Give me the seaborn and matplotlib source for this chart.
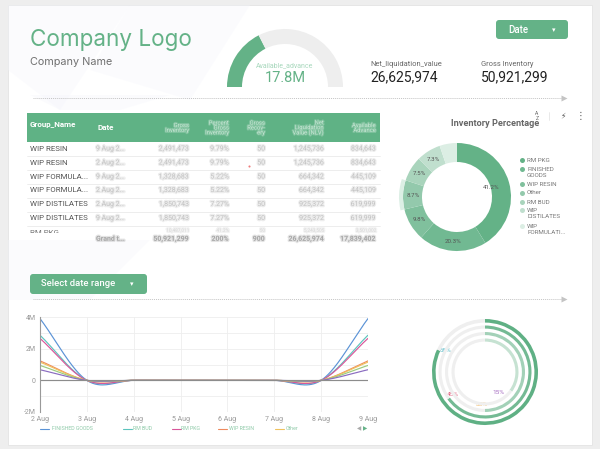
import numpy as np
import pandas as pd
import seaborn as sns
import matplotlib.pyplot as plt
import matplotlib.patheffects as pe
from matplotlib.patches import FancyBboxPatch, Polygon, Rectangle

# --- data ---
GROSS_INVENTORY = 50921299
NET_LIQUIDATION = 26625974
AVAILABLE_ADVANCE = 17839402

donut_labels = ["RM PKG", "FINISHED\nGOODS", "WIP RESIN", "Other", "RM BUD", "WIP\nDISTILATES", "WIP\nFORMULATI..."]
donut_values = [41.2, 20.3, 9.8, 8.7, 7.5, 7.3, 5.2]
donut_colors = ["#64b287", "#71b992", "#80c09d", "#93c9ac", "#a9d4bc", "#c0dfce", "#dceee4"]

table_groups = ["WIP RESIN", "WIP RESIN", "WIP FORMULA...", "WIP FORMULA...", "WIP DISTILATES", "WIP DISTILATES"]
table_dates = ["9 Aug 2...", "2 Aug 2...", "9 Aug 2...", "2 Aug 2...", "2 Aug 2...", "9 Aug 2..."]
table_gross = ["2,491,473", "2,491,473", "1,328,683", "1,328,683", "1,850,743", "1,850,743"]
table_pct = ["9.79%", "9.79%", "5.22%", "5.22%", "7.27%", "7.27%"]
table_recv = ["50", "50", "50", "50", "50", "50"]
table_net = ["1,245,736", "1,245,736", "664,342", "664,342", "925,372", "925,372"]
table_avail = ["834,643", "834,643", "445,109", "445,109", "619,999", "619,999"]
table_clipped = ["10,487,011", "41.2%", "50", "5,243,505", "3,501,002"]
table_total = ["Grand t...", "50,921,299", "200%", "900", "26,625,974", "17,839,402"]
table_headers = ["Gross\nInventory", "Percent\nGross\nInventory", "Gross\nRecov-\nery", "Net\nLiquidation\nValue (NLV)", "Available\nAdvance"]

days = [2, 3, 4, 5, 6, 7, 8, 9]
day_labels = ["2 Aug", "3 Aug", "4 Aug", "5 Aug", "6 Aug", "7 Aug", "8 Aug", "9 Aug"]
finished_goods = [3.9e6, 0, 0, 0, 0, 0, 0, 3.9e6]
rm_bud = [2.85e6, 0, 0, 0, 0, 0, 0, 2.85e6]
rm_pkg = [2.65e6, 0, 0, 0, 0, 0, 0, 2.65e6]
wip_resin = [1.23e6, 0, 0, 0, 0, 0, 0, 1.23e6]
other = [1.15e6, 0, 0, 0, 0, 0, 0, 1.15e6]
wip_distilates = [0.94e6, 0, 0, 0, 0, 0, 0, 0.94e6]
wip_formulation = [0.67e6, 0, 0, 0, 0, 0, 0, 0.67e6]
flat_series = [0, 0, 0, 0, 0, 0, 0, 0]

ring_values = [82, 65, 50, 35]
ring_colors = ["#5fb084", "#74ba94", "#a3d1b8", "#c6e2d2"]
ring_labels = ["68%", "45%", "35%", "15%"]

# --- style ---
GREEN = "#64b287"
W, H = 600, 449
sns.set_theme(style="white")
plt.rcParams["font.family"] = ["Roboto", "DejaVu Sans"]


def axes_px(fig, x0, y0, x1, y1):
    """Eixo posicionado em pixels da imagem."""
    return fig.add_axes([x0 / W, 1 - y1 / H, (x1 - x0) / W, (y1 - y0) / H])


def smooth(xs, ys, n=40):
    """Suavização Catmull-Rom entre os valores diários, como a linha do painel."""
    xs, ys = np.asarray(xs, float), np.asarray(ys, float)
    grad = np.gradient(ys, xs)
    out_x, out_y = [], []
    for i in range(len(xs) - 1):
        t = np.linspace(0, 1, n)
        out_x.extend(xs[i] + t)
        out_y.extend((2 * t ** 3 - 3 * t ** 2 + 1) * ys[i] + (t ** 3 - 2 * t ** 2 + t) * grad[i]
                     + (-2 * t ** 3 + 3 * t ** 2) * ys[i + 1] + (t ** 3 - t ** 2) * grad[i + 1])
    return out_x, out_y


def blurred(ax, x, y, s, color="#c6c6c6", size=5, ha="right", weight="normal"):
    return ax.text(x, y, s, color=color, fontsize=size, ha=ha, va="center", weight=weight,
                   path_effects=[pe.withStroke(linewidth=1.8, foreground=color, alpha=0.3)])


fig = plt.figure(figsize=(6, 4.49), dpi=100, facecolor="#eeeeee")

# --- fundo e textos em coordenadas de pixel ---
bg = axes_px(fig, 0, 0, W, H)
bg.set_xlim(0, W)
bg.set_ylim(H, 0)
bg.axis("off")
bg.add_patch(Rectangle((8, 5), 584, 440, fc="white", ec="#e4e4e4", lw=0.6))
for pts in [[(8, 5), (130, 5), (60, 110), (8, 70)],
            [(130, 5), (250, 5), (190, 100), (90, 70)],
            [(30, 95), (170, 95), (120, 110), (60, 110)],
            [(8, 240), (150, 240), (90, 300), (8, 300)]]:
    bg.add_patch(Polygon(pts, fc="#f4f5fc", ec="none", alpha=0.35))

bg.text(30, 40, "Company Logo", color=GREEN, fontsize=16.2, family="Inter", va="center")
bg.text(30, 62, "Company Name", color="#707070", fontsize=7.8, family="Inter", va="center")

bg.text(285, 66, "Available_advance", color="#a8d8bd", fontsize=5, ha="center", va="center")
bg.text(285, 78, "17.8M", color=GREEN, fontsize=10.5, ha="center", va="center")

bg.text(370, 64, "Net_liquidation_value", color="#666666", fontsize=5.4, va="center")
bg.text(370, 77, f"{NET_LIQUIDATION:,}", color="#222222", fontsize=10, va="center")
bg.text(481, 64, "Gross Inventory", color="#666666", fontsize=5.4, va="center")
bg.text(481, 77, f"{GROSS_INVENTORY:,}", color="#222222", fontsize=10, va="center")

# botões
bg.add_patch(FancyBboxPatch((499, 23), 66, 13, boxstyle="round,pad=3", fc=GREEN, ec="none"))
bg.text(508, 30, "Date", color="white", fontsize=7, va="center", weight="medium")
bg.text(554, 30, "▾", color="white", fontsize=5, ha="center", va="center", family="DejaVu Sans")
bg.add_patch(FancyBboxPatch((33, 277), 111, 14, boxstyle="round,pad=3", fc=GREEN, ec="none"))
bg.text(41, 284, "Select date range", color="white", fontsize=6.8, va="center", weight="medium")
bg.text(132, 284, "▾", color="white", fontsize=5, ha="center", va="center", family="DejaVu Sans")

# setas pontilhadas
for x0, y in [(33, 98), (33, 299)]:
    bg.plot([x0, 561], [y, y], color="#c4c4c4", lw=0.7, ls=(0, (1, 1)))
    bg.plot([564], [y], marker=">", color="#c4c4c4", ms=4.5, mec="none")

# --- tabela ---
bg.add_patch(Rectangle((27, 113), 353, 29, fc="#5fb285", ec="none"))
bg.text(30, 125, "Group_Name", color="white", fontsize=5.8, weight="bold", va="center")
bg.text(97, 128, "Date", color="white", fontsize=5.8, weight="bold", va="center")
col_right = [189, 229, 265, 324, 376]
for x, label in zip(col_right, table_headers):
    bg.text(x, 128, label, color="#c4e4d2", fontsize=4.2, ha="right", va="center", linespacing=0.95,
            path_effects=[pe.withStroke(linewidth=1.5, foreground="#c4e4d2", alpha=0.3)])
row_ys = [149, 163, 177, 190.5, 204.5, 218.5]
for i, y in enumerate(row_ys):
    bg.text(30, y, table_groups[i], color="#555555", fontsize=5.7, va="center")
    blurred(bg, 96, y, table_dates[i], ha="left")
    for x, col in zip(col_right, [table_gross, table_pct, table_recv, table_net, table_avail]):
        blurred(bg, x, y, col[i])
    bg.plot([27, 380], [y + 7, y + 7], color="#e6e6e6", lw=0.5)

# linha cortada pela rolagem da tabela
rm_pkg_text = bg.text(30, 233, "RM PKG", color="#777777", fontsize=5.7, va="center")
rm_pkg_text.set_clip_on(True)
rm_pkg_text.set_clip_path(Rectangle((27, 226), 100, 6.5, transform=bg.transData))
for x, s in zip(col_right, table_clipped):
    blurred(bg, x, 230.3, s, color="#d8d8d8", size=3.4)

blurred(bg, 96, 238.8, table_total[0], color="#a8a8a8", ha="left", weight="bold")
for x, s in zip(col_right, table_total[1:]):
    blurred(bg, x, 238.8, s, color="#a8a8a8", weight="bold")
bg.plot([249], [166], marker="o", ms=1.5, color="#ef7a7a", mec="none")

# --- donut ---
bg.text(495, 124, "Inventory Percentage", color="#666666", fontsize=6.6, weight="bold", ha="center", va="center")
bg.text(537, 116, "A\nZ", color="#666666", fontsize=3.6, ha="center", va="center", linespacing=0.8)
bg.plot([549, 549], [112, 120], color="#e0e0e0", lw=0.5)
bg.text(563, 116, "⚡", color="#555555", fontsize=5.5, ha="center", va="center", family="DejaVu Sans")
bg.text(581, 116, "⋮", color="#555555", fontsize=7, ha="center", va="center", family="DejaVu Sans")

R = 54
ax_d = axes_px(fig, 457 - 60, 197 - 60, 457 + 60, 197 + 60)
_, _, autos = ax_d.pie(donut_values, colors=donut_colors, startangle=90, counterclock=False,
                       radius=1, autopct="%.1f%%", pctdistance=0.82,
                       wedgeprops={"width": 19 / R, "ec": "none"},
                       textprops={"fontsize": 4.4, "color": "#555555"})
autos[0].set_position((0.64, 0.18))
autos[-1].set_visible(False)
halo = ["none", "none", "none", "#dcefe5", "none", "none", "none"]
ax_d.pie(donut_values, colors=halo, startangle=90, counterclock=False, radius=58 / R,
         wedgeprops={"width": 4 / R, "ec": "none"})
ax_d.set_xlim(-60 / R, 60 / R)
ax_d.set_ylim(-60 / R, 60 / R)

legend_ys = [160, 172.5, 184, 193, 202, 213.5, 229.5]
for y, label, c in zip(legend_ys, donut_labels, donut_colors):
    dot_y = y - 3.5 if "\n" in label else y
    bg.plot([522], [dot_y], marker="o", ms=3.6, color=c, mec="none")
    bg.text(527, y, label, color="#777777", fontsize=4.5, va="center", linespacing=1.25)

# --- gauge ---
ax_g = axes_px(fig, 285 - 58, 87 - 58, 285 + 58, 87 + 58)
ax_g.pie([AVAILABLE_ADVANCE, GROSS_INVENTORY - AVAILABLE_ADVANCE, GROSS_INVENTORY],
         colors=[GREEN, "#eeeeee", "none"], startangle=180, counterclock=False, radius=1,
         wedgeprops={"width": 15 / 58, "ec": "none"})
ax_g.set_xlim(-1, 1)
ax_g.set_ylim(-1, 1)

# --- anéis ---
ax_r = axes_px(fig, 485 - 54, 372 - 54, 485 + 54, 372 + 54)
for r, w, v, c in zip([53, 46.5, 40, 33.5], [3.6, 3.1, 3.1, 3.1], ring_values, ring_colors):
    ax_r.pie([v, 100 - v], colors=[c, "#efefef"], startangle=90, counterclock=False, radius=r / 54,
             wedgeprops={"width": w / 54, "ec": "none"})
ax_r.set_xlim(-1, 1)
ax_r.set_ylim(-1, 1)
for (x, y), s, c in zip([(446, 351), (453, 394), (482, 405), (498, 392)], ring_labels,
                        ["#4fb6c4", "#e0607e", "#efb45c", "#a56cc1"]):
    bg.text(x, y, s, color=c, fontsize=4.6, ha="center", va="center")

# --- gráfico de linhas ---
series = {
    "FINISHED GOODS": (finished_goods, "#5b93d6"),
    "RM BUD": (rm_bud, "#5cc4bd"),
    "RM PKG": (rm_pkg, "#d9569a"),
    "WIP RESIN": (wip_resin, "#ee8a5e"),
    "Other": (other, "#efc25f"),
    "WIP DISTILATES": (wip_distilates, "#9ccb7d"),
    "WIP FORMULATION": (wip_formulation, "#8a6cc0"),
    "Flat": (flat_series, "#8c8c8c"),
}
frames = []
for name, (vals, _) in series.items():
    sx, sy = smooth(days, vals)
    frames.append(pd.DataFrame({"day": sx, "value": sy, "series": name}))
df = pd.concat(frames, ignore_index=True)

ax = axes_px(fig, 40, 317, 368, 412)
ax.patch.set_alpha(0)
sns.lineplot(data=df, x="day", y="value", hue="series", palette={k: v[1] for k, v in series.items()},
             estimator=None, sort=False, legend=False, lw=0.85, ax=ax)
ax.set_xlim(2, 9)
ax.set_ylim(-2e6, 4e6)
ax.set_xlabel("")
ax.set_ylabel("")
ax.set_xticks(days)
ax.set_xticklabels(day_labels)
ax.set_yticks([-2e6, -1e6, 0, 1e6, 2e6, 3e6, 4e6])
ax.set_yticklabels(["-2M", "", "0", "", "2M", "", "4M"])
ax.grid(True, color="#eeeeee", lw=0.6)
ax.set_axisbelow(True)
ax.tick_params(axis="both", length=0, labelsize=5, labelcolor="#999999", pad=3)
for side in ["top", "right", "bottom"]:
    ax.spines[side].set_visible(False)
ax.spines["left"].set_color("#999999")
ax.spines["left"].set_linewidth(0.8)

# legenda do gráfico de linhas
legend_pos = [(40, 52), (123, 133), (172, 181), (218, 229), (275, 286)]
for (x0, x1), name in zip(legend_pos, list(series)[:5]):
    bg.plot([x0, x0 + 9], [429, 429], color=series[name][1], lw=0.8)
    bg.text(x1, 429, name, color="#8fcaa9", fontsize=3.8, va="center")
bg.text(359, 429, "◀", color="#aaaaaa", fontsize=4, ha="center", va="center", family="DejaVu Sans")
bg.text(365, 429, "▶", color=GREEN, fontsize=4, ha="center", va="center", family="DejaVu Sans")

fig.savefig("out.png", dpi=100, facecolor=fig.get_facecolor())
